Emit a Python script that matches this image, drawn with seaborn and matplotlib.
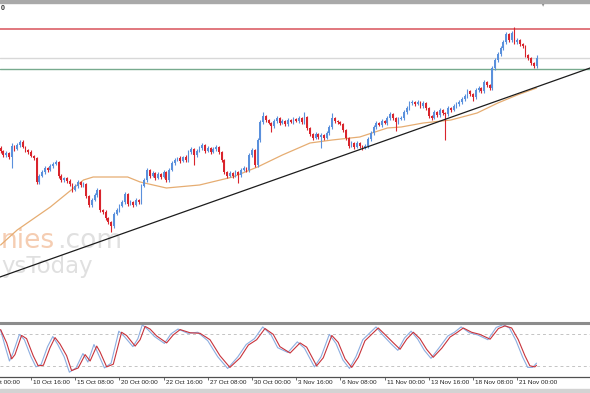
import numpy as np
import pandas as pd
import matplotlib
matplotlib.use("Agg")
import matplotlib.pyplot as plt
import seaborn as sns
from matplotlib.patches import Rectangle
from matplotlib.transforms import blended_transform_factory

sns.set_theme(style="white")
plt.rcParams['font.family'] = ['Liberation Sans', 'DejaVu Sans']

# ---------------- data ----------------
first_open = 252
closes = [
    249, 245, 247, 243, 254, 251, 255, 258, 253, 250,
    248, 244, 242, 218, 224, 228, 232, 230, 234, 236,
    238, 224, 220, 222, 219, 216, 210, 214, 218, 215,
    216, 204, 195, 200, 205, 210, 190, 188, 182, 178,
    174, 186, 190, 194, 198, 206, 196, 198, 195, 200,
    198, 214, 220, 230, 224, 227, 222, 226, 223, 228,
    220, 230, 237, 240, 242, 239, 243, 240, 248, 251,
    245, 249, 252, 255, 249, 252, 248, 251, 253, 248,
    240, 228, 224, 227, 224, 228, 225, 230, 232, 230,
    245, 250, 235, 260, 278, 284, 280, 277, 274, 279,
    282, 277, 279, 276, 280, 278, 281, 279, 282, 278,
    283, 272, 266, 262, 266, 263, 265, 262, 267, 273,
    282, 279, 278, 276, 270, 262, 254, 257, 253, 257,
    254, 252, 254, 261, 267, 273, 277, 275, 279, 277,
    282, 286, 282, 278, 281, 282, 288, 292, 297, 298,
    296, 298, 294, 297, 292, 284, 282, 288, 285, 290,
    287, 286, 292, 290, 294, 296, 298, 301, 304, 309,
    306, 303, 310, 312, 309, 318, 315, 312, 332, 340,
    346, 352, 358, 366, 360, 367, 358, 360, 356, 354,
    345, 342, 337, 334, 342,
]
upper_wick = [
    2, 1, 2, 1, 3, 1, 2, 2, 2, 1,
    1, 2, 1, 1, 2, 2, 2, 1, 2, 2,
    2, 1, 2, 1, 1, 2, 1, 2, 2, 1,
    2, 1, 1, 2, 2, 2, 1, 1, 2, 1,
    1, 2, 2, 2, 2, 2, 1, 2, 1, 2,
    1, 2, 2, 2, 1, 2, 1, 2, 1, 2,
    1, 2, 2, 2, 1, 2, 1, 2, 2, 2,
    1, 2, 2, 2, 1, 2, 1, 2, 2, 1,
    1, 1, 1, 2, 1, 2, 1, 2, 2, 1,
    2, 2, 1, 2, 2, 4, 1, 1, 1, 2,
    2, 1, 2, 1, 2, 1, 2, 1, 2, 1,
    5, 1, 1, 1, 2, 1, 2, 1, 2, 2,
    5, 1, 1, 1, 1, 1, 1, 2, 1, 2,
    1, 1, 2, 2, 2, 2, 2, 1, 2, 1,
    2, 2, 1, 1, 2, 2, 2, 2, 2, 2,
    1, 2, 1, 2, 1, 1, 1, 2, 1, 2,
    1, 1, 2, 1, 2, 2, 2, 2, 2, 2,
    1, 1, 2, 2, 1, 2, 1, 1, 2, 2,
    2, 2, 2, 2, 1, 2, 6, 2, 1, 1,
    1, 1, 1, 1, 3,
]
lower_wick = [
    2, 2, 2, 2, 11, 2, 1, 2, 1, 2,
    2, 1, 2, 2, 2, 1, 2, 2, 1, 2,
    1, 2, 2, 2, 2, 2, 2, 1, 2, 2,
    2, 2, 2, 2, 1, 2, 2, 2, 2, 2,
    6, 2, 1, 2, 1, 2, 2, 1, 2, 1,
    2, 2, 1, 2, 2, 1, 2, 1, 2, 1,
    2, 2, 1, 2, 1, 2, 1, 2, 2, 2,
    10, 2, 1, 2, 2, 1, 2, 1, 2, 2,
    2, 2, 2, 1, 2, 1, 8, 2, 1, 2,
    2, 2, 2, 2, 2, 2, 2, 1, 6, 2,
    2, 2, 1, 2, 2, 1, 2, 1, 2, 2,
    2, 2, 2, 2, 1, 2, 11, 2, 1, 2,
    2, 2, 2, 1, 2, 2, 2, 1, 2, 1,
    2, 2, 1, 2, 2, 2, 2, 1, 2, 1,
    2, 2, 2, 9, 2, 1, 2, 2, 2, 2,
    2, 1, 2, 2, 2, 2, 2, 1, 2, 2,
    2, 26, 2, 2, 1, 2, 2, 2, 2, 2,
    2, 4, 2, 2, 2, 2, 2, 2, 2, 2,
    2, 2, 2, 2, 2, 2, 2, 2, 2, 2,
    2, 2, 2, 2, 2,
]

ma_bars = [0, 6, 18, 30, 33.5, 46, 50.5, 60, 72, 84, 93, 102, 112, 120,
           130, 140, 145, 153, 163, 172.5, 180, 187, 194]
ma_vals = [155, 170, 193, 220, 223, 223, 218, 212, 215, 223, 233, 245, 257,
           260, 263, 272, 273, 277, 280, 287, 297, 305, 312]

trend_bars = [-0.22, 213.4]
trend_vals = [123, 332]

resistance_level = 371.3
support_level = 331.3

stoch_d_bars = [0, 2.2, 4, 5.2, 7.6, 9.4, 11.8, 13.6, 15.5, 17.9, 19.7, 21.5,
                23.9, 25.7, 28.1, 30.6, 32.4, 34.8, 36, 38.4, 40.8, 43.8, 45.6,
                48.7, 50.5, 52.3, 54.1, 56.5, 60.1, 62.5, 65, 68.6, 72.2, 75.8,
                79.4, 83, 86.7, 89.7, 92.7, 95.7, 98.7, 101.1, 104.8, 108.4,
                110.8, 114.4, 116.8, 119.9, 122.2, 124.7, 127.1, 129.5, 131.9,
                134.3, 136.7, 139.1, 142.2, 144.6, 147, 149.4, 151.8, 154.2,
                156.6, 159.7, 162.7, 165.1, 167.5, 170.5, 173.5, 177.2, 180.2,
                182.6, 185, 187.4, 189.8, 191.6, 193.4, 194]
stoch_d_vals = [89, 64, 34, 42, 78, 72, 40, 21, 22, 55, 74, 62, 40, 12, 17, 42,
                30, 58, 47, 19, 24, 84, 78, 58, 70, 95, 90, 77, 64, 79, 89, 83,
                82, 70, 40, 18, 36, 60, 70, 91, 80, 57, 45, 64, 56, 21, 36, 78,
                65, 34, 18, 37, 68, 80, 92, 80, 64, 52, 71, 84, 72, 52, 37, 54,
                75, 83, 92, 84, 80, 71, 91, 96, 92, 70, 40, 21, 19, 22]
stoch_k_bars = [0, 1.5, 3.2, 4.5, 6.8, 8.6, 11, 12.8, 14.7, 17, 18.9, 20.7, 23,
                24.9, 27.3, 29.8, 31.6, 33.8, 35.2, 37.6, 40, 42.8, 44.8, 47.9,
                49.7, 51.3, 53.3, 55.7, 59.3, 61.7, 64.2, 67.8, 71.4, 75, 78.6,
                82.2, 85.9, 88.9, 91.9, 94.9, 97.9, 100.3, 104, 107.4, 110,
                113.6, 116, 119, 121.4, 123.9, 126.3, 128.7, 131.1, 133.5,
                135.9, 138.3, 141.4, 143.8, 146.2, 148.6, 151, 153.4, 155.8,
                158.9, 161.9, 164.3, 166.7, 169.7, 172.7, 176.4, 179.4, 181.8,
                184.2, 186.6, 189, 190.8, 192.6, 194]
stoch_k_vals = [88, 60, 30, 45, 80, 70, 38, 19, 24, 57, 76, 61, 38, 9, 17, 44,
                28, 61, 45, 17, 26, 86, 76, 57, 72, 98, 89, 76, 63, 81, 90, 82,
                84, 68, 38, 16, 38, 61, 72, 94, 79, 55, 46, 66, 54, 19, 38, 80,
                63, 32, 16, 39, 70, 82, 94, 79, 62, 50, 73, 86, 71, 50, 35, 56,
                77, 84, 94, 83, 79, 70, 93, 98, 92, 68, 37, 18, 18, 26]

tick_bars = [11, 27, 43, 59, 75, 91, 107, 123, 139, 155, 171, 187]
tick_labels = ["10 Oct 16:00", "15 Oct 08:00", "20 Oct 00:00",
               "22 Oct 16:00", "27 Oct 08:00", "30 Oct 00:00", "3 Nov 16:00",
               "6 Nov 08:00", "11 Nov 00:00", "13 Nov 16:00", "18 Nov 08:00",
               "21 Nov 00:00"]
edge_label = "t 00:00"   # visible part of the label cut by the left edge

# ---------------- figure ----------------
W, H = 590, 393
fig = plt.figure(figsize=(W / 100, H / 100), dpi=100)
fig.patch.set_facecolor("white")


def fy(py):
    return 1 - py / H


ax = fig.add_axes([0, fy(320), 1, (320 - 3) / H])
ax2 = fig.add_axes([0, fy(377), 1, (377 - 322.5) / H])
XL = (-0.217, 213.36)

# candles
c = np.array(closes, dtype=float)
o = np.array([first_open] + closes[:-1], dtype=float)
idx = np.arange(len(c))
hi = np.maximum(o, c) + np.array(upper_wick)
lo = np.minimum(o, c) - np.array(lower_wick)
bull = c >= o
col = np.where(bull, "#5a90dc", "#d9242c")
body = np.where(np.abs(c - o) < 0.6, 0.6, c - o)
ax.vlines(idx, lo, hi, colors=col, linewidth=0.8, zorder=3)
ax.bar(idx, body, bottom=o, width=0.64, color=col, linewidth=0, zorder=4)

# moving average and trend line
sns.lineplot(data=pd.DataFrame({"bar": ma_bars, "ma": ma_vals}), x="bar", y="ma",
             ax=ax, color="#e6ad72", linewidth=0.9, sort=False, zorder=2)
sns.lineplot(data=pd.DataFrame({"bar": trend_bars, "v": trend_vals}), x="bar", y="v",
             ax=ax, color="#1c1c1c", linewidth=0.9, sort=False, zorder=5)

ax.axhline(resistance_level, color="#d9525a", linewidth=1.1, zorder=1)
ax.axhline(closes[-1], color="#d8d8d8", linewidth=1.0, zorder=1)
ax.axhline(support_level, color="#77aa8e", linewidth=1.0, zorder=1)

ax.set_xlim(*XL)
ax.set_ylim(80, 397)
ax.set_xticks([])
ax.set_yticks([])
ax.set_xlabel("")
ax.set_ylabel("")
for s in ax.spines.values():
    s.set_visible(False)

# watermark (visible part only)
ax.text(1 / W, fy(248), "nies", transform=fig.transFigure, ha="left",
        va="baseline", fontsize=19, color="#f5cdb2", family="DejaVu Sans", zorder=0.5)
ax.text(57 / W, fy(248), ".com", transform=fig.transFigure, ha="left",
        va="baseline", fontsize=19, color="#e0e0e0", family="DejaVu Sans", zorder=0.5)
ax.text(1 / W, fy(273), "ysToday", transform=fig.transFigure, ha="left",
        va="baseline", fontsize=16.5, color="#e0e0e0", family="DejaVu Sans", zorder=0.5)

# stochastic panel
sns.lineplot(data=pd.DataFrame({"bar": stoch_k_bars, "k": stoch_k_vals}), x="bar", y="k",
             ax=ax2, color="#8cade0", linewidth=0.8, sort=False)
sns.lineplot(data=pd.DataFrame({"bar": stoch_d_bars, "d": stoch_d_vals}), x="bar", y="d",
             ax=ax2, color="#c8333b", linewidth=0.8, sort=False)
for lvl in (80, 20):
    ax2.axhline(lvl, color="#c4c4c4", linewidth=0.7, linestyle=(0, (3, 3)), zorder=0.5)
ax2.set_xlim(*XL)
ax2.set_ylim(0, 102.3)
ax2.set_yticks([])
ax2.set_xlabel("")
ax2.set_ylabel("")
ax2.set_xticks(tick_bars)
ax2.tick_params(axis="x", bottom=True, direction="out", length=2.5, width=0.6,
                color="#555555", labelbottom=False)
for k in ("left", "right"):
    ax2.spines[k].set_visible(False)
ax2.spines["top"].set_color("#8c8c8c")
ax2.spines["top"].set_linewidth(2.2)
ax2.spines["bottom"].set_color("#505050")
ax2.spines["bottom"].set_linewidth(0.9)

tr = blended_transform_factory(ax2.transData, ax2.transAxes)
for b, lab in zip(tick_bars, tick_labels):
    ax2.text(b + 0.7, -3 / 54.5, lab, transform=tr, ha="left", va="top",
             fontsize=4.6, color="#222222", clip_on=False)
ax2.text(0.4 / W, -3 / 54.5, edge_label, transform=blended_transform_factory(fig.transFigure, ax2.transAxes),
         ha="left", va="top", fontsize=4.6, color="#222222", clip_on=False)

# chrome: top band, marker, cut label, bottom band
fig.add_artist(Rectangle((0, fy(2.5)), 1, 2.5 / H, transform=fig.transFigure,
                         color="#a9a9a9", zorder=10))
fig.add_artist(Rectangle((0, 0), 1, 4 / H, transform=fig.transFigure,
                         color="#d3d3d3", zorder=10))
fig.text(0.5 / W, fy(8.5), "0", fontsize=5, fontweight="bold", color="#333333",
         ha="left", va="center")
fig.text(543 / W, fy(4.5), "\u25BC", fontsize=4, color="#8a8a8a", ha="center",
         va="center", family="DejaVu Sans")

fig.savefig("out.png", dpi=100)
